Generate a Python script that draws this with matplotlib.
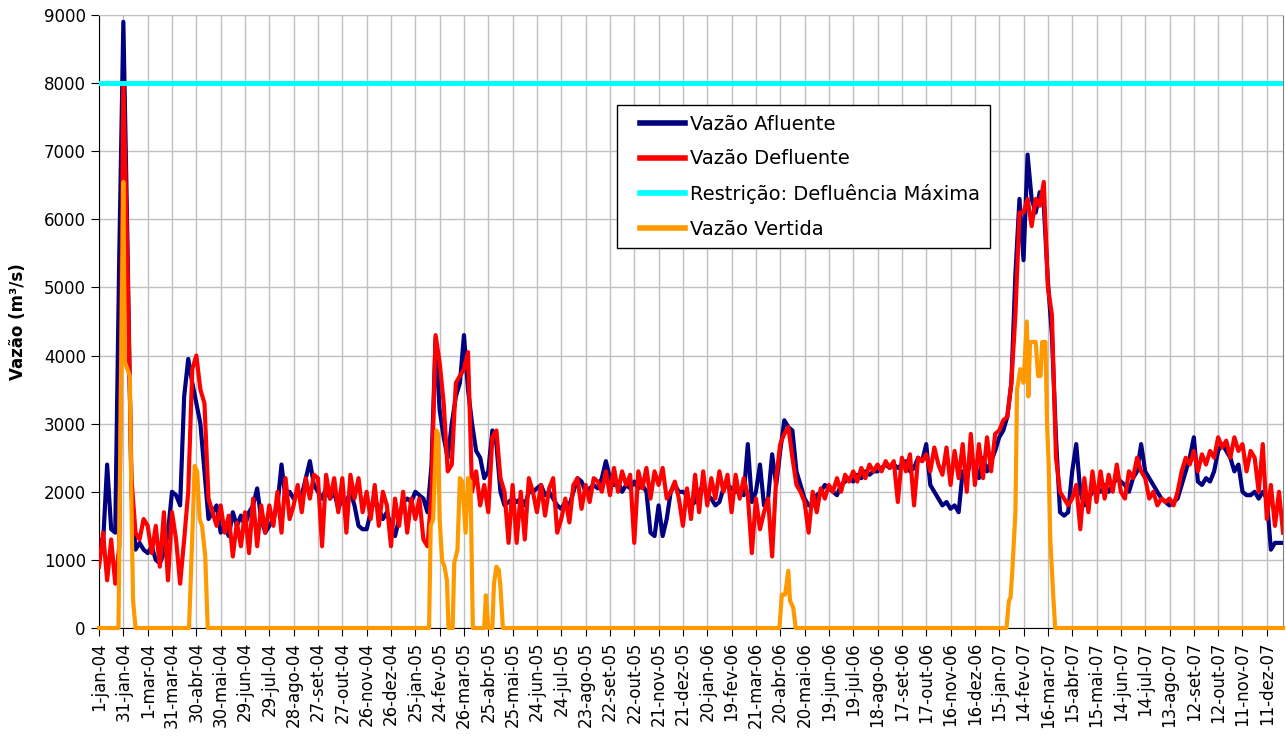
#--Import libraries--#
import numpy as np
import pandas as pd
import matplotlib
matplotlib.use("Agg")
import matplotlib.pyplot as plt
from matplotlib.legend_handler import HandlerLine2D

#--Data (one value every 5 days from 1-jan-04)--#
dias = np.arange(0, 1461, 5)

vazao_afluente = [
    1300, 1250, 2400, 1450, 1400, 5500,
    8900, 5700, 2000, 1150, 1250, 1150,
    1100, 1200, 1000, 950, 1100, 1400,
    2000, 1950, 1800, 3400, 3950, 3600,
    3300, 3000, 2300, 1600, 1700, 1800,
    1400, 1500, 1350, 1700, 1500, 1650,
    1500, 1700, 1800, 2050, 1600, 1400,
    1500, 1600, 1800, 2400, 1900, 2000,
    1900, 2000, 1950, 2200, 2450, 2100,
    2000, 1900, 2050, 1900, 2000, 1750,
    1900, 1850, 2000, 1800, 1500, 1450,
    1450, 1700, 1900, 1750, 1600, 1700,
    1500, 1350, 1600, 1850, 1900, 1850,
    2000, 1950, 1900, 1700, 2400, 4250,
    3200, 2800, 2500, 3000, 3400, 3600,
    4300, 3500, 3000, 2600, 2500, 2200,
    2300, 2900, 2700, 2000, 1800, 1850,
    1900, 1850, 1900, 1800, 2000, 2000,
    2050, 2100, 1950, 2000, 1900, 1800,
    1750, 1850, 1800, 2000, 2200, 2150,
    2000, 2050, 2100, 2050, 2200, 2450,
    2200, 2100, 2150, 2000, 2100, 2050,
    2150, 2050, 2100, 2000, 1400, 1350,
    1800, 1350, 1600, 2000, 2100, 2000,
    2000, 1950, 1800, 1850, 2000, 2100,
    1950, 1900, 1800, 1850, 2050, 2100,
    2050, 2000, 2000, 1950, 2700, 1850,
    2000, 2400, 1800, 1900, 2550, 2100,
    2600, 3050, 2950, 2900, 2300, 2100,
    1900, 1800, 1800, 1950, 2000, 2100,
    2050, 2000, 1950, 2100, 2150, 2200,
    2150, 2250, 2200, 2300, 2250, 2300,
    2300, 2350, 2400, 2350, 2400, 2350,
    2400, 2450, 2300, 2350, 2500, 2450,
    2700, 2100, 2000, 1900, 1800, 1850,
    1750, 1800, 1700, 2300, 2200, 2500,
    2400, 2200, 2500, 2300, 2450, 2600,
    2800, 2900, 3100, 3600, 5200, 6300,
    5400, 6950, 6300, 6100, 6400, 6200,
    5100, 4300, 2800, 1700, 1650, 1700,
    2300, 2700, 2000, 1800, 1900, 2000,
    2050, 2000, 2100, 2000, 2100, 2200,
    2150, 2100, 2000, 2200, 2300, 2700,
    2300, 2200, 2100, 2000, 1900, 1850,
    1800, 1850, 1900, 2100, 2300, 2500,
    2800, 2150, 2100, 2200, 2150, 2300,
    2600, 2700, 2600, 2500, 2300, 2400,
    2000, 1950, 1950, 2000, 1900, 2000,
    1900, 1150, 1250, 1250, 1250,
]

vazao_defluente = [
    900, 1400, 700, 1300, 650, 1200,
    8000, 5400, 2200, 1400, 1300, 1600,
    1500, 1100, 1500, 900, 1700, 700,
    1700, 1300, 650, 1300, 2000, 3800,
    4000, 3500, 3300, 1900, 1700, 1500,
    1800, 1400, 1650, 1050, 1550, 1200,
    1700, 1100, 1900, 1200, 1800, 1400,
    1800, 1500, 2000, 1400, 2200, 1600,
    1800, 2100, 1700, 2200, 1900, 2250,
    2200, 1200, 2250, 1900, 2200, 1700,
    2200, 1400, 2250, 1900, 2200, 1700,
    2000, 1600, 2100, 1500, 2000, 1800,
    1200, 1900, 1500, 2000, 1400, 1900,
    1600, 1900, 1300, 1200, 2000, 4300,
    3900, 3300, 2300, 2400, 3600, 3700,
    3800, 4050, 2000, 2300, 1800, 2100,
    1700, 2800, 2900, 2200, 2000, 1250,
    2100, 1250, 2000, 1300, 2200, 2000,
    1700, 2100, 1650, 2050, 2200, 1400,
    1600, 1900, 1550, 2100, 2200, 1750,
    2100, 1850, 2200, 2150, 2000, 2300,
    1950, 2350, 2000, 2300, 2100, 2250,
    1250, 2300, 2050, 2350, 1900, 2300,
    2100, 2350, 1900, 2000, 2150, 1900,
    1500, 2050, 1600, 2250, 1700, 2300,
    1800, 2200, 1900, 2300, 2000, 2250,
    1700, 2250, 1900, 2200, 1950, 1100,
    1900, 1450, 1700, 1900, 1050, 2200,
    2700, 2850, 2950, 2500, 2100, 2000,
    1850, 1400, 2000, 1700, 2050, 1900,
    2100, 2000, 2200, 2000, 2250, 2150,
    2300, 2150, 2350, 2200, 2400, 2300,
    2400, 2300, 2450, 2350, 2450, 1850,
    2500, 2300, 2550, 1800, 2500, 2450,
    2550, 2300, 2650, 2400, 2250, 2650,
    2100, 2600, 2200, 2700, 2000, 2850,
    2100, 2700, 2200, 2800, 2300, 2850,
    2900, 3050, 3100, 3600, 4600, 6100,
    6100, 6300, 5900, 6300, 6200, 6550,
    5000, 4600, 2500, 2000, 1900, 1800,
    1900, 2100, 1450, 2200, 1700, 2300,
    1850, 2300, 1900, 2250, 2000, 2400,
    2000, 1900, 2300, 2200, 2500, 2300,
    2200, 1900, 2000, 1800, 1900, 1850,
    1900, 1800, 2000, 2300, 2500, 2400,
    2600, 2300, 2550, 2400, 2600, 2500,
    2800, 2650, 2750, 2500, 2800, 2600,
    2700, 2300, 2600, 2500, 2000, 2700,
    1600, 2100, 1500, 2000, 1400,
]

# spill only happens in a few short windows, so it gets its own day list
dias_vertida = [0, 24, 27, 30, 32, 38, 40, 42, 45,
                111, 118, 121, 124, 127, 131, 134,
                407, 409, 412, 416, 418, 420, 423, 426, 429, 431,
                436, 438, 442, 445, 448, 452, 455, 458, 461,
                475, 477, 480, 485, 487, 490, 493, 495, 498,
                839, 842, 846, 850, 852, 856, 859,
                1119, 1122, 1124, 1126, 1130, 1132, 1136, 1140, 1144, 1146,
                1148, 1155, 1158, 1161, 1163, 1167, 1169, 1171, 1173, 1177, 1179,
                1460]
vazao_vertida = [0, 0, 3500, 6550, 3900, 3700, 1800, 400, 0,
                 0, 2380, 2300, 1600, 1500, 1050, 0,
                 0, 1500, 1600, 2900, 2850, 1600, 1000, 900, 700, 0,
                 0, 950, 1150, 2200, 2150, 1400, 2200, 2150, 0,
                 0, 480, 0, 0, 650, 900, 850, 600, 0,
                 0, 490, 490, 840, 400, 300, 0,
                 0, 400, 450, 800, 1700, 3500, 3800, 3600, 4500, 3400,
                 4200, 4200, 3700, 3700, 4200, 4200, 3000, 2400, 1300, 400, 0,
                 0]

defluencia_maxima = 8000

meses = ["jan", "fev", "mar", "abr", "mai", "jun",
         "jul", "ago", "set", "out", "nov", "dez"]
datas_ticks = pd.date_range("2004-01-01", periods=49, freq="30D")
rotulos_x = [f"{d.day}-{meses[d.month - 1]}-{d:%y}" for d in datas_ticks]
posicoes_x = [(d - datas_ticks[0]).days for d in datas_ticks]


#--Legend handle: short line at the right end of the handle box (Excel look)--#
class HandlerLinhaCurta(HandlerLine2D):
    def create_artists(self, legend, orig_handle, xdescent, ydescent,
                       width, height, fontsize, trans):
        artistas = super().create_artists(legend, orig_handle, xdescent, ydescent,
                                          width, height, fontsize, trans)
        for a in artistas:
            x = np.asarray(a.get_xdata(), dtype=float)
            if len(x) >= 2:
                a.set_xdata(np.linspace(x[0] + 0.22 * (x[-1] - x[0]), x[-1], len(x)))
        return artistas


#--Plot--#
fig = plt.figure(figsize=(12.86, 7.47), dpi=100)
ax = fig.add_axes([0.077, 0.1593, 0.9207, 0.8206])

ax.plot(dias, vazao_afluente, color="#000080", lw=3.0, label="Vazão Afluente", zorder=3)
ax.plot(dias, vazao_defluente, color="#ff0000", lw=3.0, label="Vazão Defluente", zorder=4)
ax.axhline(defluencia_maxima, color="#00ffff", lw=3.6,
           label="Restrição: Defluência Máxima", zorder=5)
ax.plot(dias_vertida, vazao_vertida, color="#ff9900", lw=3.0, label="Vazão Vertida",
        zorder=6, clip_on=False)

ax.set_xlim(0, 1460)
ax.set_ylim(0, 9000)
ax.set_yticks(range(0, 9001, 1000))
ax.set_xticks(posicoes_x)
ax.set_xticklabels(rotulos_x, rotation=90, fontsize=12)
ax.tick_params(axis="y", labelsize=12, length=6, direction="out")
ax.tick_params(axis="x", length=6, direction="out", pad=4)

ax.grid(True, color="#c0c0c0", lw=1)
ax.set_axisbelow(True)
for lado in ["left", "bottom"]:
    ax.spines[lado].set_color("black")
ax.spines["top"].set_color("#c0c0c0")
ax.spines["right"].set_color("#808080")

ax.set_ylabel("Vazão (m³/s)", fontsize=12, fontweight="bold", labelpad=12)

leg = ax.legend(loc="upper left", bbox_to_anchor=(0.4375, 0.853), fontsize=14,
                frameon=True, fancybox=False, edgecolor="black", framealpha=1,
                handlelength=3.0, handletextpad=0.25, labelspacing=0.8,
                borderpad=0.5, borderaxespad=0,
                handler_map={plt.Line2D: HandlerLinhaCurta()})
for linha in leg.get_lines():
    linha.set_linewidth(4)
leg.get_frame().set_linewidth(1)

fig.savefig("out.png", dpi=100)
